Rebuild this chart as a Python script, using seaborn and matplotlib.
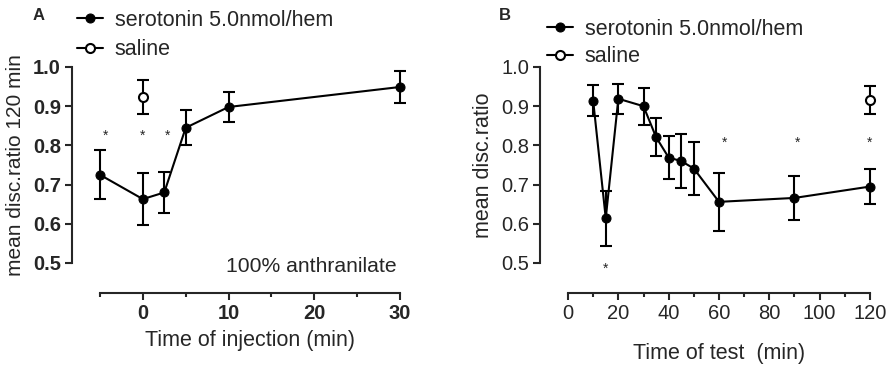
import numpy as np
import pandas as pd
import matplotlib
matplotlib.use('Agg')
import matplotlib.pyplot as plt
import seaborn as sns
from matplotlib.ticker import MultipleLocator

# panel A - time of injection
inj_time = [-5, 0, 2.5, 5, 10, 30]
inj_ratio = [0.725, 0.663, 0.680, 0.845, 0.898, 0.949]
inj_err = [0.062, 0.067, 0.052, 0.045, 0.039, 0.040]
inj_saline_time = [0]
inj_saline_ratio = [0.923]
inj_saline_err = [0.044]
inj_star_x = [-4.4, 0, 2.9]
inj_star_y = [0.825, 0.825, 0.825]

# panel B - time of test
test_time = [10, 15, 20, 30, 35, 40, 45, 50, 60, 90, 120]
test_ratio = [0.914, 0.614, 0.919, 0.900, 0.821, 0.769, 0.760, 0.741, 0.656, 0.666, 0.695]
test_err = [0.040, 0.070, 0.038, 0.047, 0.048, 0.054, 0.068, 0.068, 0.074, 0.056, 0.045]
test_saline_time = [120]
test_saline_ratio = [0.915]
test_saline_err = [0.036]
test_star_x = [15, 62, 91, 120]
test_star_y = [0.485, 0.806, 0.806, 0.806]

sns.set_style('ticks')
plt.rcParams['font.family'] = ['Liberation Sans', 'DejaVu Sans']

fig = plt.figure(figsize=(8.92, 3.69), dpi=100)
axA = fig.add_axes([100/892, 106/369, 300/892, 196/369])
axB = fig.add_axes([568/892, 106/369, 302/892, 196/369])


def draw_panel(ax, t, r, e, st, sr, se, sx, sy):
    df = pd.DataFrame({'t': t, 'r': r})
    sns.lineplot(data=df, x='t', y='r', ax=ax, color='black', lw=1.5, marker='o',
                 markersize=6.5, markeredgecolor='black', label='serotonin 5.0nmol/hem',
                 clip_on=False, zorder=3)
    ax.errorbar(t, r, yerr=e, fmt='none', ecolor='black', elinewidth=1.5,
                capsize=4.3, capthick=1.5, clip_on=False, zorder=2)
    sdf = pd.DataFrame({'t': st, 'r': sr})
    sns.lineplot(data=sdf, x='t', y='r', ax=ax, color='black', lw=1.5, marker='o',
                 markersize=6.5, markerfacecolor='white', markeredgecolor='black',
                 markeredgewidth=1.5, label='saline', clip_on=False, zorder=4)
    ax.errorbar(st, sr, yerr=se, fmt='none', ecolor='black', elinewidth=1.5,
                capsize=4.3, capthick=1.5, clip_on=False, zorder=2)
    for x, y in zip(sx, sy):
        ax.text(x, y, '*', ha='center', va='center', fontsize=10)
    ax.set_ylim(0.5, 1.0)
    ax.yaxis.set_major_locator(MultipleLocator(0.1))
    ax.tick_params(which='major', direction='out', length=5, width=1.5, labelsize=14.5, pad=3)
    ax.tick_params(which='minor', direction='out', length=3, width=1.5)
    for s in ['left', 'bottom']:
        ax.spines[s].set_linewidth(1.5)
    sns.despine(ax=ax, offset={'left': 20, 'bottom': 21.6})


draw_panel(axA, inj_time, inj_ratio, inj_err, inj_saline_time, inj_saline_ratio,
           inj_saline_err, inj_star_x, inj_star_y)
axA.set_xlim(-5, 30)
axA.xaxis.set_major_locator(MultipleLocator(10))
axA.xaxis.set_minor_locator(MultipleLocator(5))
axA.yaxis.set_major_formatter(matplotlib.ticker.FormatStrFormatter('%.1f'))
for lab in axA.get_xticklabels() + axA.get_yticklabels():
    lab.set_fontweight('bold')
axA.set_xlabel('Time of injection (min)', fontsize=15.5, labelpad=5)
axA.set_ylabel('mean disc.ratio 120 min', fontsize=15, labelpad=6)
axA.text(0.99, -0.02, '100% anthranilate', transform=axA.transAxes, ha='right',
         va='center', fontsize=15.2)
axA.legend(loc='upper left', bbox_to_anchor=(77/892, 1 - 10/369), bbox_transform=fig.transFigure,
           frameon=False, fontsize=15.5, handlelength=1.2, handletextpad=0.55,
           labelspacing=0.38, borderpad=0, borderaxespad=0)

draw_panel(axB, test_time, test_ratio, test_err, test_saline_time, test_saline_ratio,
           test_saline_err, test_star_x, test_star_y)
axB.set_xlim(0, 120)
axB.xaxis.set_major_locator(MultipleLocator(20))
axB.xaxis.set_minor_locator(MultipleLocator(10))
axB.yaxis.set_major_formatter(matplotlib.ticker.FormatStrFormatter('%.1f'))
axB.set_xlabel('Time of test  (min)', fontsize=15.5, labelpad=14)
axB.set_ylabel('mean disc.ratio', fontsize=15.5, labelpad=5)
axB.legend(loc='upper left', bbox_to_anchor=(547/892, 1 - 19/369), bbox_transform=fig.transFigure,
           frameon=False, fontsize=15.5, handlelength=1.2, handletextpad=0.55,
           labelspacing=0.3, borderpad=0, borderaxespad=0)

fig.text(39/892, 1 - 15/369, 'A', fontsize=12, fontweight='bold', ha='center', va='center')
fig.text(505/892, 1 - 15/369, 'B', fontsize=12, fontweight='bold', ha='center', va='center')

fig.savefig('out.png', dpi=100)
